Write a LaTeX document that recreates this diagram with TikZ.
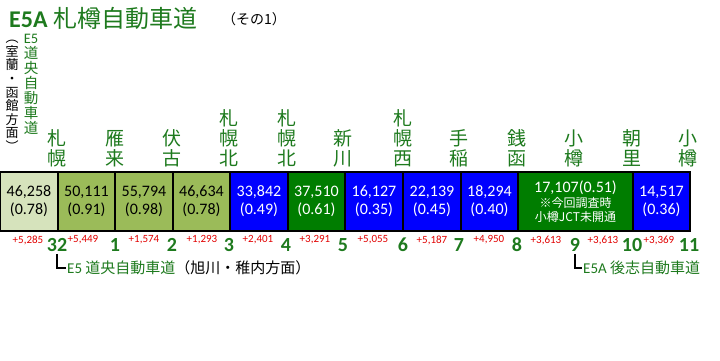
\documentclass[tikz,border=0pt]{standalone}
\usepackage{fontspec}
\setmainfont{Carlito}
\newfontfamily\jp{Noto Sans CJK JP}
\definecolor{roadgreen}{RGB}{30,122,30}
\definecolor{lightbox}{RGB}{214,227,188}
\definecolor{olivebox}{RGB}{155,187,89}
\definecolor{bluebox}{RGB}{0,0,255}
\definecolor{greenbox}{RGB}{0,125,0}
\definecolor{diffred}{RGB}{225,0,0}
\tikzset{
  sect/.style={draw=black, line width=1.3pt, inner sep=0pt, minimum height=59pt, align=center,
    font=\fontsize{16}{18}\selectfont},
  station/.style={anchor=south, inner sep=0pt, align=center, text=roadgreen,
    font=\jp\fontsize{19}{20}\selectfont},
  icnum/.style={inner sep=0pt, text=roadgreen, font=\bfseries\fontsize{20}{20}\selectfont},
  diff/.style={inner sep=0pt, text=diffred, font=\fontsize{11}{11}\selectfont},
  note/.style={anchor=west, inner sep=0pt, font=\jp\fontsize{15}{15}\selectfont}
}
\begin{document}
\begin{tikzpicture}[x=1pt, y=-1pt]
		\useasboundingbox (0,0) rectangle (720,361);
		\pgfmathsetmacro{\ys}{167}
		\pgfmathsetmacro{\yb}{201.5}
		
		% title
		\node[anchor=base west, inner sep=0pt, text=roadgreen, font=\fontsize{24}{24}\selectfont] (title) at (9,28) {\textbf{E5A} {\jp 札樽自動車道}};
		\node[anchor=base west, inner sep=0pt, font=\jp\fontsize{14}{14}\selectfont] (part) at (222,25) {（その1）};
		\node[anchor=north, inner sep=0pt, align=center, font=\jp\fontsize{13}{13.6}\selectfont] (west) at (12,40) {︵\\室\\蘭\\・\\函\\館\\方\\面\\︶};
		\node[anchor=north, inner sep=0pt, align=center, text=roadgreen, font=\jp\fontsize{14.5}{15}\selectfont] (e5) at (31,34) {{\rmfamily E5}\\道\\央\\自\\動\\車\\道};
		
		% stations
		\node[station] (s1) at (57,\ys) {札\\幌};
		\node[station] (s2) at (115,\ys) {雁\\来};
		\node[station] (s3) at (172,\ys) {伏\\古};
		\node[station] (s4) at (229,\ys) {札\\幌\\北};
		\node[station] (s5) at (287,\ys) {札\\幌\\北};
		\node[station] (s6) at (343,\ys) {新\\川};
		\node[station] (s7) at (403,\ys) {札\\幌\\西};
		\node[station] (s8) at (459,\ys) {手\\稲};
		\node[station] (s9) at (517,\ys) {銭\\函};
		\node[station] (s10) at (574,\ys) {小\\樽};
		\node[station] (s11) at (632,\ys) {朝\\里};
		\node[station] (s12) at (688,\ys) {小\\樽};
		
		% sections
		\node[sect, fill=lightbox, minimum width=58pt] (b1) at (29,\yb) {46,258\\(0.78)};
		\node[sect, fill=olivebox, minimum width=57pt] (b2) at (86.5,\yb) {50,111\\(0.91)};
		\node[sect, fill=olivebox, minimum width=58pt] (b3) at (144,\yb) {55,794\\(0.98)};
		\node[sect, fill=olivebox, minimum width=57pt] (b4) at (201.5,\yb) {46,634\\(0.78)};
		\node[sect, fill=bluebox, text=white, minimum width=58pt] (b5) at (259,\yb) {33,842\\(0.49)};
		\node[sect, fill=greenbox, text=white, minimum width=57pt] (b6) at (316.5,\yb) {37,510\\(0.61)};
		\node[sect, fill=bluebox, text=white, minimum width=58pt] (b7) at (374,\yb) {16,127\\(0.35)};
		\node[sect, fill=bluebox, text=white, minimum width=58pt] (b8) at (432,\yb) {22,139\\(0.45)};
		\node[sect, fill=bluebox, text=white, minimum width=57pt] (b9) at (489.5,\yb) {18,294\\(0.40)};
		\node[sect, fill=greenbox, text=white, minimum width=115pt] (b10) at (575.5,\yb) {17,107(0.51)\\[-3pt]{\jp\fontsize{12}{12}\selectfont ※今回調査時}\\[-4pt]{\jp\fontsize{12}{12}\selectfont 小樽JCT未開通}};
		\node[sect, fill=bluebox, text=white, minimum width=57pt] (b11) at (661.5,\yb) {14,517\\(0.36)};
		
		% traffic change
		\node[diff] (d1) at (28,240) {+5,285};
		\node[diff] (d2) at (83,240) {+5,449};
		\node[diff] (d3) at (144,240) {+1,574};
		\node[diff] (d4) at (202,240) {+1,293};
		\node[diff] (d5) at (258,240) {+2,401};
		\node[diff] (d6) at (315,240) {+3,291};
		\node[diff] (d7) at (373,240) {+5,055};
		\node[diff] (d8) at (432,240) {+5,187};
		\node[diff] (d9) at (489,240) {+4,950};
		\node[diff] (d10) at (546,240) {+3,613};
		\node[diff] (d11) at (603,240) {+3,613};
		\node[diff] (d12) at (659,240) {+3,369};
		
		% interchange numbers
		\node[icnum] (ic32) at (57,245) {32};
		\node[icnum] (ic1) at (115,245) {1};
		\node[icnum] (ic2) at (172,245) {2};
		\node[icnum] (ic3) at (229,245) {3};
		\node[icnum] (ic4) at (286,245) {4};
		\node[icnum] (ic5) at (343,245) {5};
		\node[icnum] (ic6) at (403,245) {6};
		\node[icnum] (ic7) at (459,245) {7};
		\node[icnum] (ic8) at (517,245) {8};
		\node[icnum] (ic9) at (575,245) {9};
		\node[icnum] (ic10) at (632,245) {10};
		\node[icnum] (ic11) at (689,245) {11};
		
		% junction notes
		\node[note] (e5note) at (67,268) {\textcolor{roadgreen}{{\rmfamily E5} 道央自動車道}（旭川・稚内方面）};
		\node[note, text=roadgreen] (e5anote) at (583,268) {{\rmfamily E5A} 後志自動車道};
		\draw[line width=1.3pt] ([yshift=-2pt]ic32.south) |- ([xshift=-1pt]e5note.west);
		\draw[line width=1.3pt] ([yshift=-2pt]ic9.south) |- ([xshift=-1pt]e5anote.west);
\end{tikzpicture}
\end{document}
